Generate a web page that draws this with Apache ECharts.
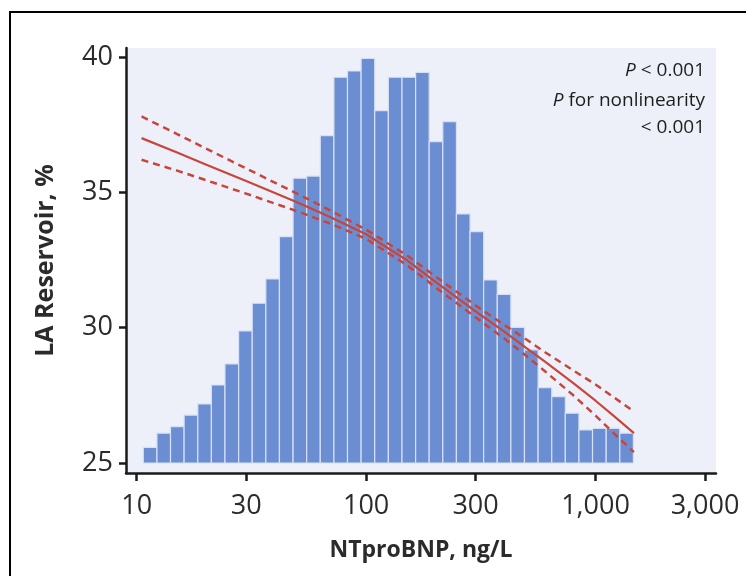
<!DOCTYPE html>
<html>
<head>
<meta charset="utf-8">
<script src="https://cdn.jsdelivr.net/npm/echarts@6/dist/echarts.min.js"></script>
<style>
html,body{margin:0;padding:0;background:#fff;}
#chart{width:746px;height:576px;}
</style>
</head>
<body>
<div id="chart"></div>
<script>
// Histogram bins of NTproBNP (ng/L), equal width on log scale
const binEdges = [10.68, 12.25, 14.04, 16.09, 18.46, 21.16, 24.25, 27.81, 31.88, 36.54,
  41.89, 48.03, 55.06, 63.11, 72.36, 82.95, 95.08, 109.0, 125.0, 143.3,
  164.3, 188.3, 215.9, 247.5, 283.8, 325.3, 372.9, 427.5, 490.0, 561.9,
  644.2, 738.4, 846.6, 970.3, 1112.6, 1275.5, 1462];
const binHeights = [25.58, 26.10, 26.34, 26.77, 27.18, 27.88, 28.66, 29.88, 30.90, 31.80,
  33.36, 35.52, 35.60, 37.09, 39.25, 39.48, 39.95, 38.02, 39.25, 39.25,
  39.43, 36.87, 37.61, 34.20, 33.55, 31.76, 31.23, 30.01, 29.18, 27.78,
  27.45, 26.84, 26.22, 26.28, 26.28, 26.10];

// Spline estimate and 95% CI
const curveX = [10.5, 15, 20, 30, 50, 70, 100, 150, 200, 300, 400, 500, 600, 800, 1000, 1200, 1470];
const curveMid = [37.0, 36.47, 36.03, 35.42, 34.63, 34.08, 33.45, 32.5, 31.7, 30.6, 29.85, 29.24, 28.75, 27.95, 27.3, 26.74, 26.1];
const curveUpper = [37.8, 37.15, 36.62, 35.88, 34.95, 34.32, 33.62, 32.68, 31.9, 30.82, 30.1, 29.56, 29.1, 28.42, 27.9, 27.43, 26.9];
const curveLower = [36.2, 35.8, 35.45, 34.95, 34.3, 33.84, 33.28, 32.32, 31.5, 30.38, 29.6, 28.95, 28.4, 27.5, 26.75, 26.1, 25.4];

const xTicks = [10, 30, 100, 300, 1000, 3000];
const yTicks = [25, 30, 35, 40];
const xRange = [8.98, 3350];
const yRange = [24.63, 40.33];
const yBase = 25;

const L = Math.log10;
const chart = echarts.init(document.getElementById('chart'), null, {renderer: 'canvas'});

const barData = binHeights.map((h, i) => [L(binEdges[i]), L(binEdges[i + 1]), h]);
const toLine = arr => curveX.map((x, i) => [L(x), arr[i]]);

const red = '#c8453b';
const fontFam = '"Open Sans", "Noto Sans", sans-serif';
const annRich = {i: {fontStyle: 'italic', fontSize: 19, fontFamily: fontFam, fill: '#1e1e1e'}};

chart.setOption({
  animation: false,
  backgroundColor: '#ffffff',
  grid: {left: 126, right: 30, top: 48, bottom: 103, show: true, backgroundColor: '#edf0f9', borderWidth: 0},
  xAxis: {
    type: 'value',
    min: L(xRange[0]), max: L(xRange[1]),
    splitLine: {show: false},
    axisLine: {show: true, onZero: false, lineStyle: {color: '#1a1a1a', width: 2.5}},
    axisTick: {show: true, length: 8, lineStyle: {color: '#1a1a1a', width: 2.5}, customValues: xTicks.map(L)},
    axisLabel: {
      customValues: xTicks.map(L), margin: 20, fontSize: 27, color: '#2b2b2b', fontFamily: fontFam,
      formatter: v => Math.round(Math.pow(10, v)).toLocaleString('en-US')
    },
    name: 'NTproBNP, ng/L', nameLocation: 'middle', nameGap: 66,
    nameTextStyle: {fontSize: 23, fontWeight: 'bold', color: '#2b2b2b', fontFamily: fontFam}
  },
  yAxis: {
    type: 'value',
    min: yRange[0], max: yRange[1],
    splitLine: {show: false},
    axisLine: {show: true, onZero: false, lineStyle: {color: '#1a1a1a', width: 2.5}},
    axisTick: {show: true, length: 7, lineStyle: {color: '#1a1a1a', width: 2.5}, customValues: yTicks},
    axisLabel: {customValues: yTicks, margin: 13, fontSize: 27, color: '#2b2b2b', fontFamily: fontFam},
    name: 'LA Reservoir, %', nameLocation: 'middle', nameGap: 68,
    nameTextStyle: {fontSize: 25, fontWeight: 'bold', color: '#2b2b2b', fontFamily: fontFam}
  },
  graphic: [
    {type: 'rect', shape: {x: 10, y: 12, width: 800, height: 700}, style: {fill: 'none', stroke: '#000', lineWidth: 2}, silent: true, z: 100},
    {type: 'text', right: 41, top: 61, style: {text: '{i|P} < 0.001', align: 'right', fill: '#1e1e1e', font: '19px ' + fontFam, rich: annRich}, z: 50},
    {type: 'text', right: 41, top: 91, style: {text: '{i|P} for nonlinearity', align: 'right', fill: '#1e1e1e', font: '19px ' + fontFam, rich: annRich}, z: 50},
    {type: 'text', right: 41, top: 118, style: {text: '< 0.001', align: 'right', fill: '#1e1e1e', font: '19px ' + fontFam}, z: 50}
  ],
  series: [
    {
      type: 'custom',
      data: barData,
      encode: {x: [0, 1], y: 2},
      renderItem: (params, api) => {
        const p0 = api.coord([api.value(0), api.value(2)]);
        const p1 = api.coord([api.value(1), yBase]);
        return {
          type: 'rect',
          shape: {x: p0[0], y: p0[1], width: p1[0] - p0[0], height: p1[1] - p0[1]},
          style: {fill: '#6b8ed2', stroke: '#d6e0f5', lineWidth: 1.2}
        };
      },
      z: 1
    },
    {type: 'line', data: toLine(curveMid), smooth: false, symbol: 'none', lineStyle: {color: red, width: 2.2, join: 'round'}, z: 3},
    {type: 'line', data: toLine(curveUpper), smooth: false, symbol: 'none', lineStyle: {color: red, width: 2.5, type: [7, 5]}, z: 3},
    {type: 'line', data: toLine(curveLower), smooth: false, symbol: 'none', lineStyle: {color: red, width: 2.5, type: [7, 5]}, z: 3}
  ]
});
</script>
</body>
</html>
